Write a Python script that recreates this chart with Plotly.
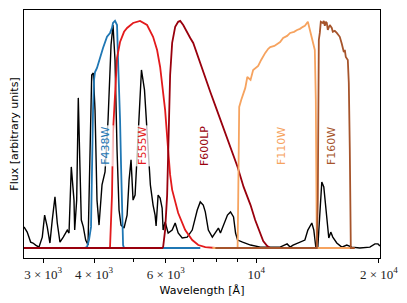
import numpy as np
import plotly.graph_objects as go

# ---- data (wavelength in Angstrom, flux in arbitrary units) ----
spec_wave = [2693, 2742, 2796, 2833, 2876, 2930, 2986, 3026, 3071, 3118, 3159, 3208, 3250, 3300,
             3362, 3408, 3439, 3473, 3518, 3572, 3586, 3627, 3660, 3696, 3723, 3765, 3816, 3867,
             3910, 3948, 3984, 4023, 4068, 4115, 4185, 4257, 4330, 4404, 4453, 4504, 4556, 4608,
             4660, 4740, 4822, 4877, 4931, 4988, 5045, 5131, 5230, 5320, 5410, 5500, 5585, 5649,
             5681, 5713, 5746, 5812, 5878, 5911, 5978, 6081, 6221, 6328, 6436, 6584, 6774, 6968,
             7169, 7292, 7416, 7502, 7632, 7807, 7942, 8079, 8172, 8360, 8504, 8651, 8800, 8901,
             9004, 9262, 9688, 10242, 10829, 11450, 11912, 12114, 12319, 12806, 13170, 13393,
             13696, 13852, 14009, 14168, 14329, 14491, 14656, 14906, 15075, 15246, 15419, 15771,
             16224, 16690, 17170, 17966, 19016, 19565, 19905, 20134]
spec_flux = [0.093, 0.070, 0.026, 0.022, 0.013, 0.004, 0.048, 0.145, 0.093, 0.022, 0.123, 0.225,
             0.110, 0.026, 0.048, 0.066, 0.079, 0.066, 0.357, 0.211, 0.079, 0.211, 0.661, 0.344,
             0.123, 0.093, 0.035, 0.013, 0.388, 0.762, 0.771, 0.608, 0.211, 0.101, 0.278, 0.335,
             0.564, 0.894, 0.982, 0.828, 0.432, 0.167, 0.101, 0.088, 0.145, 0.300, 0.388, 0.211,
             0.233, 0.476, 0.784, 0.696, 0.476, 0.278, 0.189, 0.145, 0.097, 0.167, 0.233, 0.220,
             0.176, 0.079, 0.115, 0.066, 0.079, 0.110, 0.066, 0.044, 0.048, 0.079, 0.167, 0.203,
             0.189, 0.159, 0.079, 0.048, 0.066, 0.088, 0.066, 0.115, 0.145, 0.159, 0.137, 0.066,
             0.035, 0.026, 0.013, 0.004, 0.004, 0.004, 0.018, 0.004, 0.013, 0.026, 0.035, 0.079,
             0.110, 0.079, 0.004, 0.004, 0.137, 0.291, 0.269, 0.137, 0.044, 0.070, 0.048, 0.022,
             0.004, 0.013, 0.004, 0.0, 0.004, 0.018, 0.018, 0.009]

f438w_wave = [3696, 3780, 3845, 3888, 3933, 3955, 3978, 4000, 4023, 4068, 4138, 4209, 4305, 4379,
              4428, 4453, 4504, 4556, 4582, 4608, 4634, 4660, 4687, 4714, 4740, 7292]
f438w_thru = [0.0, 0.0, 0.004, 0.035, 0.093, 0.388, 0.608, 0.740, 0.775, 0.793, 0.841, 0.881,
              0.930, 0.947, 0.969, 0.991, 1.0, 0.982, 0.828, 0.731, 0.564, 0.366, 0.115, 0.013,
              0.0, 0.0]

f555w_wave = [2693, 4354, 4379, 4428, 4453, 4504, 4556, 4634, 4740, 4822, 4988, 5189, 5398, 5585,
              5713, 5812, 5911, 5978, 6081, 6150, 6221, 6328, 6436, 6697, 6968, 7210, 7502, 7942]
f555w_thru = [0.0, 0.0, 0.004, 0.233, 0.511, 0.705, 0.837, 0.907, 0.952, 0.969, 0.991, 1.0, 0.982,
              0.930, 0.872, 0.797, 0.696, 0.608, 0.432, 0.322, 0.256, 0.198, 0.154, 0.079, 0.035,
              0.013, 0.004, 0.0]

f600lp_wave = [2693, 5878, 5911, 5978, 6047, 6081, 6115, 6150, 6221, 6328, 6436, 6510, 6622, 6735,
               6890, 7008, 7129, 7292, 7502, 7718, 7942, 8172, 8407, 8651, 9004, 9315, 9688, 9944,
               10242, 10407, 10645, 10829, 11450]
f600lp_thru = [0.0, 0.0, 0.004, 0.079, 0.233, 0.432, 0.652, 0.762, 0.903, 0.974, 0.996, 1.0, 0.982,
               0.956, 0.925, 0.903, 0.863, 0.815, 0.753, 0.687, 0.626, 0.564, 0.502, 0.445, 0.357,
               0.269, 0.189, 0.123, 0.066, 0.031, 0.009, 0.0, 0.0]

f110w_wave = [7807, 9004, 9035, 9061, 9086, 9190, 9315, 9405, 9512, 9688, 9831, 10000, 10114,
              10286, 10407, 10526, 10706, 10829, 11082, 11272, 11450, 11647, 11912, 12114, 12389,
              12601, 12806, 13022, 13170, 13393, 13544, 13774, 13930, 14009, 14049, 14088, 14168,
              17170]
f110w_thru = [0.0, 0.0, 0.211, 0.62, 0.621, 0.652, 0.687, 0.705, 0.753, 0.740, 0.784, 0.793, 0.802,
              0.828, 0.846, 0.859, 0.877, 0.885, 0.890, 0.899, 0.907, 0.925, 0.934, 0.947, 0.952,
              0.960, 0.965, 0.974, 0.978, 0.996, 0.960, 0.916, 0.872, 0.652, 0.211, 0.004, 0.0,
              0.0]

f160w_wave = [7942, 14088, 14168, 14208, 14249, 14329, 14410, 14573, 14656, 14740, 14822, 14906,
              14990, 15160, 15332, 15419, 15593, 15771, 16041, 16224, 16317, 16410, 16503, 16596,
              16785, 16880, 16976, 17024, 17073, 17462]
f160w_thru = [0.0, 0.0, 0.211, 0.652, 0.916, 0.947, 0.996, 0.991, 1.0, 0.978, 0.996, 0.991, 0.960,
              0.982, 0.969, 0.952, 0.956, 0.947, 0.930, 0.899, 0.881, 0.863, 0.872, 0.841, 0.828,
              0.727, 0.432, 0.079, 0.0, 0.0]

filter_names = ["F438W", "F555W", "F600LP", "F110W", "F160W"]
filter_colors = ["#1f77b4", "#e31a1c", "#99000d", "#f6a35f", "#a6542b"]
label_wave = [4281, 5278, 7502, 11584, 15376]
label_flux = [0.45, 0.45, 0.45, 0.45, 0.45]

x_tick_vals = [3000, 4000, 6000, 10000, 20000]
x_tick_text = ["3 × 10<sup>3</sup>", "4 × 10<sup>3</sup>", "6 × 10<sup>3</sup>",
               "10<sup>4</sup>", "2 × 10<sup>4</sup>"]
x_minor_vals = [5000, 7000, 8000, 9000]

x_range = [2693, 20134]
y_range = [-0.044, 1.048]

# ---- figure ----
fig = go.Figure()
fig.add_trace(go.Scatter(x=spec_wave, y=spec_flux, mode="lines",
                         line=dict(color="black", width=1.4), showlegend=False))

filters = [(f438w_wave, f438w_thru), (f555w_wave, f555w_thru), (f600lp_wave, f600lp_thru),
           (f110w_wave, f110w_thru), (f160w_wave, f160w_thru)]
for (w, t), name, col in zip(filters, filter_names, filter_colors):
    fig.add_trace(go.Scatter(x=w, y=t, mode="lines", name=name,
                             line=dict(color=col, width=1.8), showlegend=False))

for name, col, lw, lf in zip(filter_names, filter_colors, label_wave, label_flux):
    fig.add_annotation(x=np.log10(lw), y=lf, text=name, textangle=-90, showarrow=False,
                       font=dict(family="DejaVu Sans", size=11, color=col),
                       bgcolor="rgba(255,255,255,0.75)", borderpad=1,
                       xref="x", yref="y")

# page body has an 8px default margin, so the figure is sized to fit the 407x303 window
fig.update_layout(
    width=399, height=295,
    margin=dict(l=16, r=27, t=2, b=45),
    paper_bgcolor="white", plot_bgcolor="white",
    font=dict(family="DejaVu Sans", size=11, color="black"),
)
fig.update_xaxes(
    type="log", range=[np.log10(x_range[0]), np.log10(x_range[1])],
    tickmode="array", tickvals=x_tick_vals, ticktext=x_tick_text,
    ticks="outside", ticklen=4, tickwidth=0.8, tickcolor="black",
    tickfont=dict(family="Liberation Serif", size=13, color="#222"),
    minor=dict(tickmode="array", tickvals=x_minor_vals, ticks="outside", ticklen=2.5,
               tickwidth=0.6, tickcolor="black", showgrid=False),
    showgrid=False, zeroline=False, showline=True, linecolor="black", linewidth=1, mirror=True,
    title=dict(text="Wavelength [Å]", font=dict(family="DejaVu Sans", size=11), standoff=5),
)
fig.update_yaxes(
    range=y_range, showticklabels=False, ticks="", showgrid=False, zeroline=False,
    showline=True, linecolor="black", linewidth=1, mirror=True,
    title=dict(text="Flux [arbitrary units]", font=dict(family="DejaVu Sans", size=11), standoff=4),
)

fig.write_html("out.html")
